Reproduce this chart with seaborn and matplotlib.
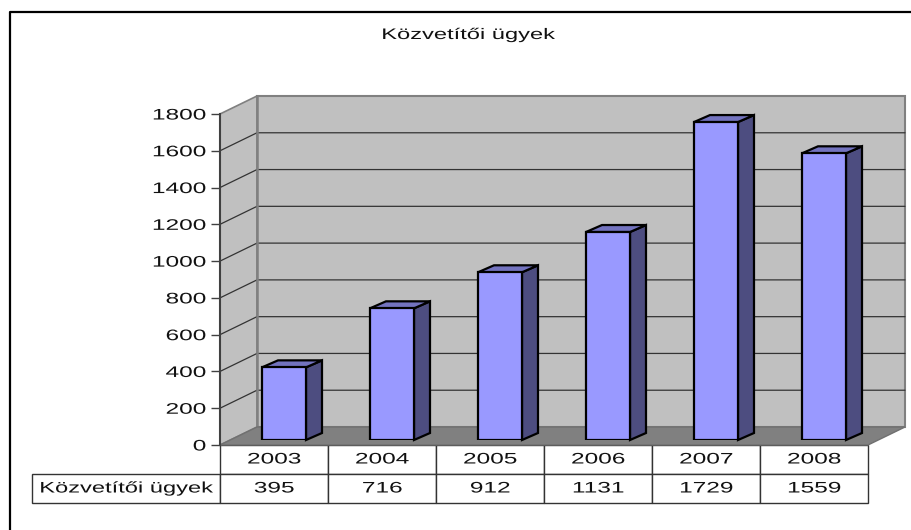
import matplotlib
matplotlib.use("Agg")
import matplotlib.pyplot as plt
import matplotlib.patheffects as pe
from matplotlib.lines import Line2D
from matplotlib.patches import Polygon
from matplotlib.transforms import Affine2D
import seaborn as sns

# Adatok
title = "Közvetítői ügyek"
series_name = "Közvetítői ügyek"
years = ["2003", "2004", "2005", "2006", "2007", "2008"]
values = [395, 716, 912, 1131, 1729, 1559]
y_ticks = [0, 200, 400, 600, 800, 1000, 1200, 1400, 1600, 1800]

W, H = 912, 530
col_w = 108  # one category in pixels
scale = 331 / 1800  # pixels per unit


class Stretch(pe.AbstractPathEffect):
    # the original text is stretched sideways
    def __init__(self, sx=1.6, ha="center"):
        super().__init__()
        self.sx = sx
        self.k = {"center": 0.5, "right": 1.0, "left": 0.0}[ha]

    def draw_path(self, renderer, gc, tpath, affine, rgbFace=None):
        w = tpath.get_extents().x1
        t = Affine2D().translate(-w * self.k, 0).scale(self.sx, 1).translate(w * self.k, 0)
        renderer.draw_path(gc, tpath, t + affine, rgbFace)


sns.set_style("white")
plt.rcParams["font.family"] = ["Liberation Sans", "DejaVu Sans"]

fig = plt.figure(figsize=(W / 100, H / 100), dpi=100)
ax = fig.add_axes([220 / W, (H - 445) / H, col_w * 6 / W, 331 / H])
ax.set_xlim(-0.5, 5.5)
ax.set_ylim(0, 1800)
ax.patch.set_alpha(0)

# wall depth in data units
dx = 37 / col_w
dy = 18 / scale
x0, x1 = -0.5, 5.5
top = y_ticks[-1]

ax.add_patch(Polygon([(x0 + dx, dy), (x1 + dx, dy), (x1 + dx, top + dy), (x0 + dx, top + dy)],
                     fc="#C0C0C0", ec="#808080", lw=1.5, clip_on=False, zorder=1))
ax.add_patch(Polygon([(x0, 0), (x0 + dx, dy), (x0 + dx, top + dy), (x0, top)],
                     fc="#C0C0C0", ec="#808080", lw=1.2, clip_on=False, zorder=1))
ax.add_patch(Polygon([(x0, 0), (x1, 0), (x1 + dx, dy), (x0 + dx, dy)],
                     fc="#808080", ec="#707070", lw=1, clip_on=False, zorder=2))

# Rácsvonalak
for v in y_ticks[1:-1]:
    ax.plot([x0, x0 + dx, x1 + dx], [v, v + dy, v + dy], color="#333333", lw=0.9,
            clip_on=False, zorder=1.5)
ax.plot([x0 + dx, x0 + dx], [dy, top + dy], color="#808080", lw=1.8, clip_on=False, zorder=1.6)

ax.set_xticks([])
ax.set_yticks(y_ticks)
for s in ["top", "right", "bottom"]:
    ax.spines[s].set_visible(False)
ax.spines["left"].set_color("#404040")
ax.spines["left"].set_linewidth(1.5)
ax.tick_params(axis="y", left=True, length=6.5, width=1, color="#404040", pad=3.6,
               labelsize=11, labelcolor="#111111")
for lab in ax.get_yticklabels():
    lab.set_path_effects([Stretch(ha="right")])

# Oszlopok
ax_bars = fig.add_axes([230 / W, (H - 440) / H, col_w * 6 / W, 331 / H])
ax_bars.patch.set_alpha(0)
sns.barplot(x=years, y=values, color="#9999FF", saturation=1, width=44 / col_w,
            edgecolor="black", linewidth=1.6, ax=ax_bars, zorder=5)
ax_bars.set_xlim(-0.5, 5.5)
ax_bars.set_ylim(0, 1800)
ax_bars.set_axis_off()

bx = 16 / col_w
by = 7 / scale
for bar in list(ax_bars.patches):
    l, r, h = bar.get_x(), bar.get_x() + bar.get_width(), bar.get_height()
    ax_bars.add_patch(Polygon([(r, 0), (r + bx, by), (r + bx, h + by), (r, h)],
                              fc="#4D4D80", ec="black", lw=1.6, clip_on=False, zorder=4))
    ax_bars.add_patch(Polygon([(l, h), (r, h), (r + bx, h + by), (l + bx, h + by)],
                              fc="#7373BF", ec="black", lw=1.6, clip_on=False, zorder=4))

# Adattábla
left_w = 220 - 32
rows = [[""] + years, [series_name] + [str(v) for v in values]]
table = ax.table(cellText=rows, colWidths=[left_w] + [col_w] * 6, cellLoc="center",
                 bbox=[-left_w / (col_w * 6), -58 / 331, (left_w + col_w * 6) / (col_w * 6), 58 / 331])
table.auto_set_font_size(False)
table.set_fontsize(11)
for (r, c), cell in table.get_celld().items():
    cell.set_edgecolor("#333333")
    cell.set_linewidth(1)
    cell.get_text().set_color("#111111")
    if r == 1 and c == 0:
        cell.get_text().set_path_effects([Stretch(sx=1.55)])
    else:
        cell.get_text().set_path_effects([Stretch()])
    if r == 0 and c == 0:
        cell.visible_edges = ""

t = fig.text(468 / W, 1 - 35 / H, title, ha="center", va="center", fontsize=11, color="#111111")
t.set_path_effects([Stretch(sx=1.55)])

# Külső keret
fig.add_artist(Line2D([10 / W, 10 / W, 1], [0, 1 - 12 / H, 1 - 12 / H], color="black", lw=1.6))

fig.savefig("out.png", dpi=100)
